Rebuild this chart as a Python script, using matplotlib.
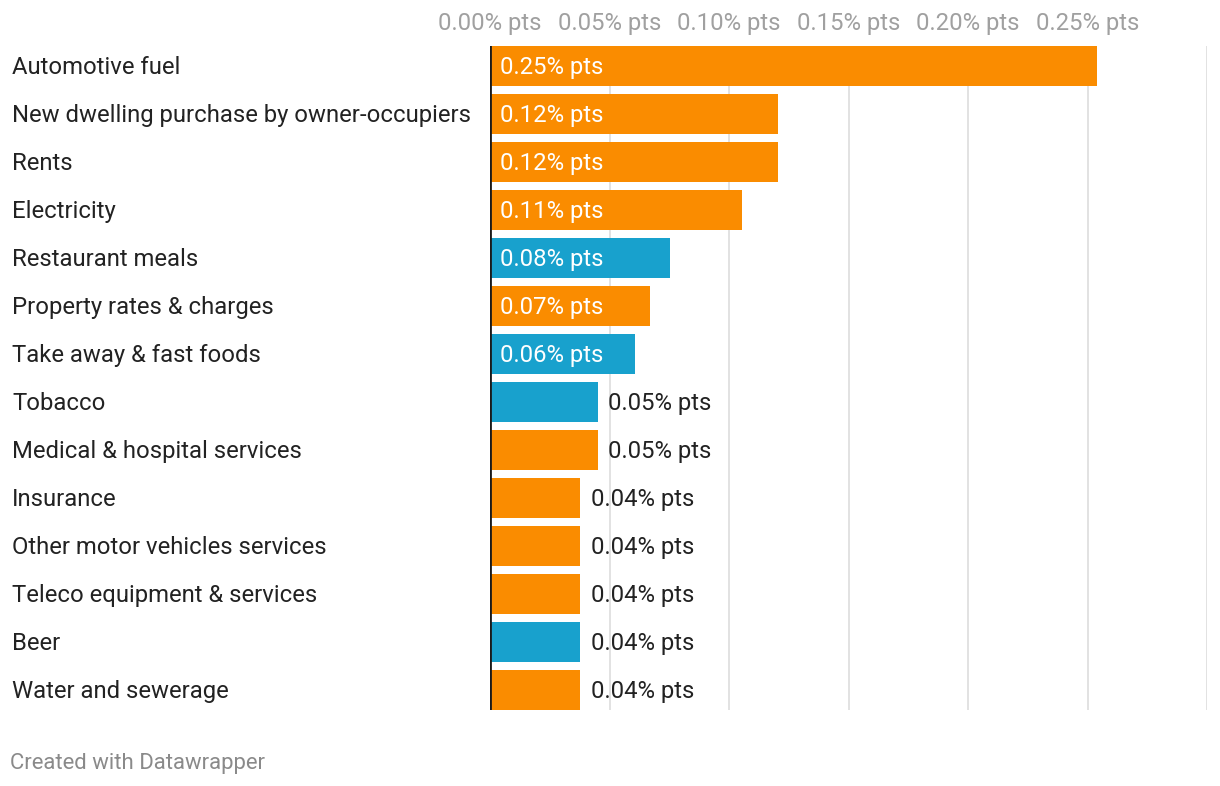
import matplotlib.pyplot as plt
import matplotlib.transforms as mtransforms

categories = ['Automotive fuel', 'New dwelling purchase by owner-occupiers', 'Rents',
              'Electricity', 'Restaurant meals', 'Property rates & charges',
              'Take away & fast foods', 'Tobacco', 'Medical & hospital services',
              'Insurance', 'Other motor vehicles services', 'Teleco equipment & services',
              'Beer', 'Water and sewerage']
values = [0.254, 0.1205, 0.1205, 0.1055, 0.0755, 0.067, 0.0605, 0.0452, 0.0452,
          0.0377, 0.0377, 0.0377, 0.0377, 0.0377]
bar_colors = ['#fa8c00', '#fa8c00', '#fa8c00', '#fa8c00', '#18a1cd', '#fa8c00', '#18a1cd',
              '#18a1cd', '#fa8c00', '#fa8c00', '#fa8c00', '#fa8c00', '#18a1cd', '#fa8c00']
xticks = [0.0, 0.05, 0.10, 0.15, 0.20, 0.25]
grid_x = [0.05, 0.10, 0.15, 0.20, 0.25, 0.30]

plt.rcParams['font.family'] = ['Roboto', 'DejaVu Sans']

W, H = 1220, 786
fig = plt.figure(figsize=(W / 100, H / 100), dpi=100)
ax = fig.add_axes([490 / W, 1 - 710 / H, (1207 - 490) / W, (710 - 46) / H])

n = len(categories)
ypos = list(range(n))
bh = 40 / 48
ax.barh(ypos, values, height=bh, color=bar_colors, zorder=3)

for gx in grid_x:
    ax.axvline(gx, color='#e2e2e2', lw=1.4, zorder=1)
ax.axvline(0, color='#1a1a1a', lw=2, zorder=4)

ax.set_xlim(0, 0.30)
ax.set_ylim(n - 1 + bh / 2, -bh / 2)

# value labels
for y, v in zip(ypos, values):
    lab = f'{v:.2f}% pts'
    if v > 0.05:
        ax.annotate(lab, (0, y), xytext=(7.5, -1.2), textcoords='offset points',
                    va='center', ha='left', color='white', fontsize=17.2, zorder=5)
    else:
        ax.annotate(lab, (v, y), xytext=(7.5, -1.2), textcoords='offset points',
                    va='center', ha='left', color='#222222', fontsize=17.2, zorder=5)

# category labels
trans = mtransforms.blended_transform_factory(fig.transFigure, ax.transData)
for y, c in zip(ypos, categories):
    ax.annotate(c, (12 / W, y), xycoords=trans, xytext=(0, -1.2),
                textcoords='offset points', va='center', ha='left',
                color='#222222', fontsize=17.2)

# top tick labels
ax.xaxis.tick_top()
ax.set_xticks(xticks)
ax.set_xticklabels([f'{t:.2f}% pts' for t in xticks], color='#a0a0a0', fontsize=17.2)
ax.tick_params(axis='x', length=0, pad=8)
ax.set_yticks([])
for s in ax.spines.values():
    s.set_visible(False)

fig.text(10 / W, 1 - 764 / H, 'Created with Datawrapper', color='#8a8a8a',
         fontsize=15.9, va='center', ha='left')

fig.savefig('out.png', dpi=100)
